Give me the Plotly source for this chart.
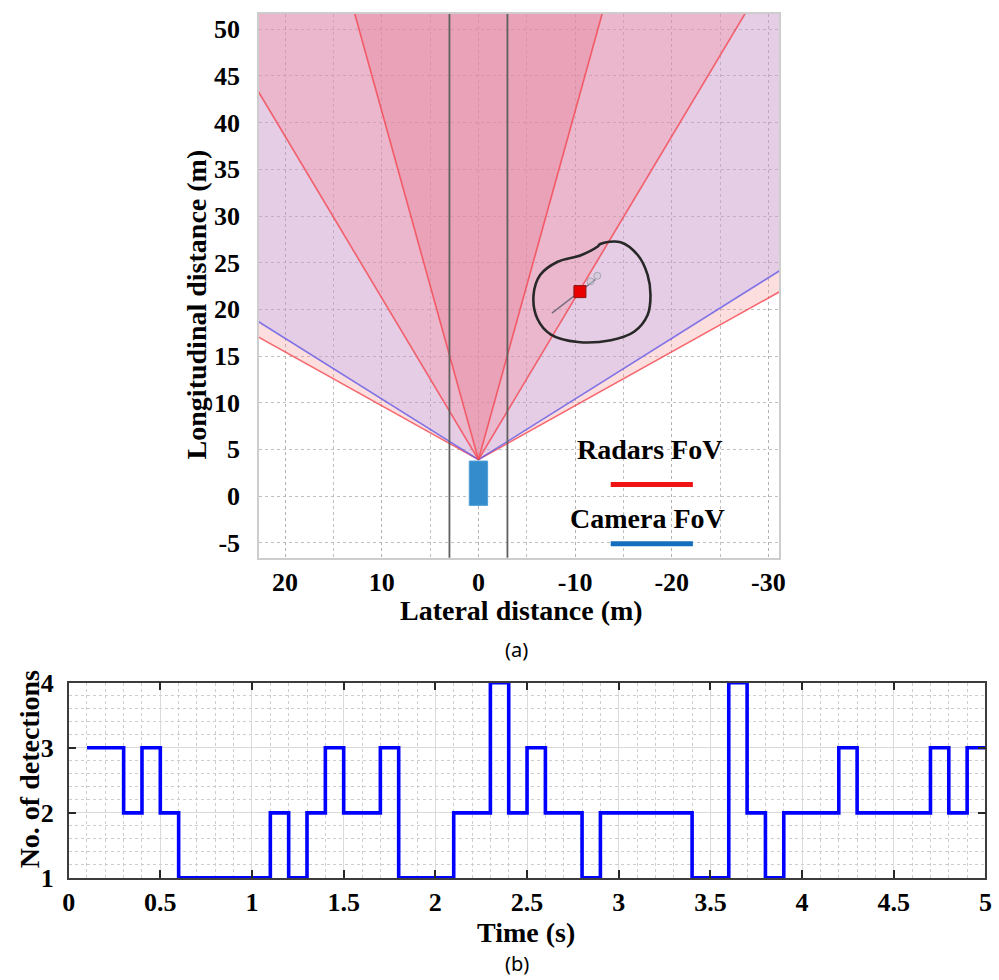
import numpy as np
import plotly.graph_objects as go

# ---------------- data: panel (a) ----------------
sensor_origin = (0.0, 3.9)            # lateral, longitudinal (m)
wide_radar_half_fov = 60.0            # deg
camera_half_fov = 57.0                # deg
mid_radar_half_fov = 30.0             # deg
narrow_radar_half_fov = 15.0          # deg
coverage_range = 150.0                # m
lane_lines = [3.0, -3.0]
ego_x = [-0.95, 0.95]
ego_y = [-1.0, 3.75]
target_x = [-10.5]
target_y = [21.9]
track_x = [-7.6, -12.1]
track_y = [19.6, 23.2]
ghost_x = [-11.6, -12.3]
ghost_y = [23.0, 23.6]
circle_x = [-12.6, -14.7, -16.5, -17.5, -17.8, -17.5, -16.1, -13.7, -10.3, -7.5,
            -6.1, -5.7, -6.4, -8.2, -10.6, -12.3, -12.6]
circle_y = [27.0, 27.2, 25.8, 23.7, 21.5, 19.4, 17.6, 16.7, 16.5, 17.3,
            19.0, 21.5, 23.7, 25.1, 25.8, 26.7, 27.0]
a_xticks = [20, 10, 0, -10, -20, -30]
a_yticks = [-5, 0, 5, 10, 15, 20, 25, 30, 35, 40, 45, 50]

# ---------------- data: panel (b) ----------------
step_t = [0.1, 0.3, 0.4, 0.5, 0.6, 1.1, 1.2, 1.3, 1.4, 1.5, 1.7, 1.8, 2.1, 2.3, 2.4,
          2.5, 2.6, 2.8, 2.9, 3.4, 3.6, 3.7, 3.8, 3.9, 4.2, 4.3, 4.7, 4.8, 4.9, 5.0]
step_n = [3, 2, 3, 2, 1, 2, 1, 2, 3, 2, 3, 1, 2, 4, 2,
          3, 2, 1, 2, 1, 4, 2, 1, 2, 3, 2, 3, 2, 3, 3]
b_xticks = [0, 0.5, 1, 1.5, 2, 2.5, 3, 3.5, 4, 4.5, 5]
b_xticklabels = ["0", "0.5", "1", "1.5", "2", "2.5", "3", "3.5", "4", "4.5", "5"]
b_yticks = [1, 2, 3, 4]

# page geometry: the figure is shown slightly offset and scaled in the snapshot
SX, OX = 0.985, 6.5
SY, OY = 0.970, 12.7
W, H = 999, 988
SERIF = "Liberation Serif"


def fx(out):
    return (out - OX) / SX


def fy(out):
    return (out - OY) / SY


def px_x(out):
    return fx(out) / W


def px_y(out):
    return 1 - fy(out) / H


def wedge(half_deg):
    ox, oy = sensor_origin
    ang = np.radians(np.linspace(-half_deg, half_deg, 60))
    xs = [ox] + list(ox + coverage_range * np.sin(ang)) + [ox]
    ys = [oy] + list(oy + coverage_range * np.cos(ang)) + [oy]
    return xs, ys


def rays(half_deg):
    ox, oy = sensor_origin
    xs, ys = [], []
    for s in (-1, 1):
        a = np.radians(s * half_deg)
        xs += [ox, ox + coverage_range * np.sin(a), None]
        ys += [oy, oy + coverage_range * np.cos(a), None]
    return xs, ys


fig = go.Figure()

fills = [
    (wide_radar_half_fov, "rgba(248,145,145,0.3)"),
    (camera_half_fov, "rgba(173,165,245,0.3)"),
    (mid_radar_half_fov, "rgba(249,132,149,0.3)"),
    (narrow_radar_half_fov, "rgba(232,116,132,0.3)"),
]
for hf, col in fills:
    xs, ys = wedge(hf)
    fig.add_trace(go.Scatter(x=xs, y=ys, fill="toself", fillcolor=col, mode="lines",
                             line=dict(width=0), hoverinfo="skip", showlegend=False,
                             xaxis="x", yaxis="y"))

line_specs = [
    (wide_radar_half_fov, "rgba(245,70,80,0.8)"),
    (camera_half_fov, "rgba(100,90,230,0.8)"),
    (mid_radar_half_fov, "rgba(245,70,80,0.8)"),
    (narrow_radar_half_fov, "rgba(245,70,80,0.8)"),
]
for hf, col in line_specs:
    xs, ys = rays(hf)
    fig.add_trace(go.Scatter(x=xs, y=ys, mode="lines", line=dict(color=col, width=1.6),
                             hoverinfo="skip", showlegend=False, xaxis="x", yaxis="y"))

lx, ly = [], []
for v in lane_lines:
    lx += [v, v, None]
    ly += [-20, 80, None]
fig.add_trace(go.Scatter(x=lx, y=ly, mode="lines", line=dict(color="rgb(95,95,95)", width=1.8),
                         hoverinfo="skip", showlegend=False, xaxis="x", yaxis="y"))

fig.add_trace(go.Scatter(x=[ego_x[0], ego_x[1], ego_x[1], ego_x[0], ego_x[0]],
                         y=[ego_y[0], ego_y[0], ego_y[1], ego_y[1], ego_y[0]],
                         fill="toself", fillcolor="rgb(52,140,204)", mode="lines",
                         line=dict(color="rgb(80,160,215)", width=1), hoverinfo="skip",
                         showlegend=False, xaxis="x", yaxis="y"))

fig.add_trace(go.Scatter(x=track_x, y=track_y, mode="lines",
                         line=dict(color="rgba(90,90,110,0.8)", width=1.5),
                         hoverinfo="skip", showlegend=False, xaxis="x", yaxis="y"))
fig.add_trace(go.Scatter(x=ghost_x, y=ghost_y, mode="markers",
                         marker=dict(size=7, color="rgba(200,200,210,0.5)",
                                     line=dict(color="rgba(150,150,160,0.7)", width=1)),
                         hoverinfo="skip", showlegend=False, xaxis="x", yaxis="y"))
fig.add_trace(go.Scatter(x=target_x, y=target_y, mode="markers",
                         marker=dict(symbol="square", size=12, color="rgb(235,0,0)",
                                     line=dict(color="rgb(140,20,20)", width=1)),
                         hoverinfo="skip", showlegend=False, xaxis="x", yaxis="y"))
fig.add_trace(go.Scatter(x=circle_x, y=circle_y, mode="lines",
                         line=dict(color="rgb(40,40,40)", width=2.6, shape="spline", smoothing=1.0),
                         hoverinfo="skip", showlegend=False, xaxis="x", yaxis="y"))

# ---------------- panel (b) ----------------
fig.add_trace(go.Scatter(x=step_t, y=step_n, mode="lines",
                         line=dict(color="rgb(0,0,255)", width=3.6, shape="hv"),
                         hoverinfo="skip", showlegend=False, xaxis="x2", yaxis="y2",
                         cliponaxis=False))

tick_font = dict(family=SERIF, size=26, color="black")
title_font = dict(family=SERIF, size=28, color="black")


def bold(v):
    return "<b>%s</b>" % v


top_out = max(11.0, OY)
y_top_val = 50 + (28 - top_out) / 9.33

fig.update_layout(
    width=W, height=H,
    margin=dict(l=0, r=0, t=0, b=0, pad=0),
    font=dict(family=SERIF, color="black"),
    paper_bgcolor="white", plot_bgcolor="white",
    showlegend=False,
    xaxis=dict(domain=[px_x(259), px_x(778)], range=[22.7, -31.1], anchor="y",
               tickmode="array", tickvals=a_xticks, ticktext=[bold(v) for v in a_xticks],
               tickfont=tick_font, ticks="", ticklabelstandoff=0,
               showgrid=True, gridcolor="rgba(175,175,175,0.8)", griddash="dot", gridwidth=1,
               minor=dict(dtick=5, tick0=0, showgrid=True, gridcolor="rgba(175,175,175,0.8)",
                          griddash="dot", gridwidth=1),
               zeroline=False, showline=True, linecolor="rgb(205,205,205)", linewidth=1.5,
               mirror=True),
    yaxis=dict(domain=[px_y(556), min(1.0, px_y(top_out))], range=[-6.6, y_top_val], anchor="x",
               tickmode="array", tickvals=a_yticks, ticktext=[bold(v) for v in a_yticks],
               tickfont=tick_font, ticks="", ticklabelstandoff=12,
               showgrid=True, gridcolor="rgba(175,175,175,0.8)", griddash="dot", gridwidth=1,
               zeroline=False, showline=True, linecolor="rgb(205,205,205)", linewidth=1.5,
               mirror=True),
    xaxis2=dict(domain=[px_x(69), px_x(984)], range=[0, 5], anchor="y2",
                tickmode="array", tickvals=b_xticks, ticktext=[bold(v) for v in b_xticklabels],
                tickfont=tick_font,
                ticks="inside", ticklen=8, tickwidth=1.5, tickcolor="rgb(40,40,40)",
                ticklabelstandoff=0,
                showgrid=True, gridcolor="rgb(218,218,218)", gridwidth=1,
                minor=dict(dtick=0.1, tick0=0, showgrid=True, gridcolor="rgb(205,205,205)",
                           griddash="dot", gridwidth=1),
                zeroline=False, showline=True, linecolor="rgb(60,60,60)", linewidth=1.5,
                mirror="allticks"),
    yaxis2=dict(domain=[px_y(876), px_y(681)], range=[1, 4], anchor="x2",
                tickmode="array", tickvals=b_yticks, ticktext=[bold(v) for v in b_yticks],
                tickfont=tick_font,
                ticks="inside", ticklen=8, tickwidth=1.5, tickcolor="rgb(40,40,40)",
                ticklabelstandoff=8,
                showgrid=True, gridcolor="rgb(218,218,218)", gridwidth=1,
                minor=dict(dtick=0.2, tick0=0, showgrid=True, gridcolor="rgb(205,205,205)",
                           griddash="dot", gridwidth=1),
                zeroline=False, showline=True, linecolor="rgb(60,60,60)", linewidth=1.5,
                mirror="allticks"),
)

b_label_out = min(965.0, OY + SY * (H - 10))
annots = [
    ("Longitudinal distance (m)", 197, 303, -90, title_font),
    ("Lateral distance (m)", 521, 609, 0, title_font),
    ("Radars FoV", 649, 448, 0, title_font),
    ("Camera FoV", 647, 517, 0, title_font),
    ("No. of detections", 30, 768, -90, title_font),
    ("Time (s)", 525, 931, 0, title_font),
]
for text, x, y, rot, f in annots:
    fig.add_annotation(text=bold(text), x=px_x(x), y=px_y(y), xref="paper", yref="paper",
                       xanchor="center", yanchor="middle", showarrow=False,
                       textangle=rot, font=f)
for text, y in (("(a)", 648.0), ("(b)", b_label_out)):
    fig.add_annotation(text=text, x=px_x(516), y=px_y(y), xref="paper", yref="paper",
                       xanchor="center", yanchor="middle", showarrow=False,
                       font=dict(family="Noto Sans", size=20, color="black"))

fig.add_shape(type="line", xref="paper", yref="paper", x0=px_x(610), x1=px_x(692),
              y0=px_y(483), y1=px_y(483), line=dict(color="rgb(240,20,20)", width=5))
fig.add_shape(type="line", xref="paper", yref="paper", x0=px_x(610), x1=px_x(692),
              y0=px_y(542), y1=px_y(542), line=dict(color="rgb(20,110,190)", width=5))

fig.write_html("out.html")
